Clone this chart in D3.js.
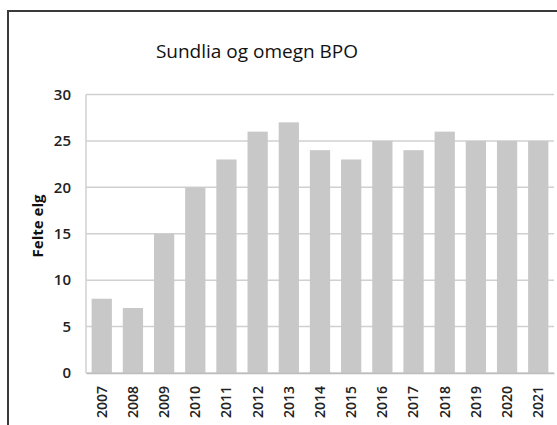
<!DOCTYPE html>
<html><head><meta charset="utf-8">
<script src="https://cdn.jsdelivr.net/npm/d3@7"></script>
<style>body{margin:0;background:#fff;}svg{display:block;}</style>
</head><body>
<svg id="c" width="557" height="425"></svg>
<script>
const years = ["2007","2008","2009","2010","2011","2012","2013","2014","2015","2016","2017","2018","2019","2020","2021"];
const felteElg = [8,7,15,20,23,26,27,24,23,25,24,26,25,25,25];
const yTicks = [0,5,10,15,20,25,30];
const title = "Sundlia og omegn BPO";
const yLabel = "Felte elg";

const svg = d3.select("#c");
const mL = 86, mR = 554, mT = 94.5, mB = 373;
svg.append("rect").attr("x",8).attr("y",11).attr("width",600).attr("height",500)
  .attr("fill","#fff").attr("stroke","#3a3a3a").attr("stroke-width",2);

const x = d3.scaleBand().domain(years).range([mL,mR]).paddingInner(0.35).paddingOuter(0.18);
const y = d3.scaleLinear().domain([0,30]).range([mB,mT]);

const grid = svg.append("g");
grid.selectAll("line").data(yTicks).join("line")
  .attr("x1",mL).attr("x2",mR).attr("y1",d=>y(d)).attr("y2",d=>y(d))
  .attr("stroke","#d0d0d0").attr("stroke-width",1.5);
grid.append("line").attr("x1",mL).attr("x2",mL).attr("y1",mT).attr("y2",mB)
  .attr("stroke","#d0d0d0").attr("stroke-width",1.5);

svg.append("g").selectAll("rect").data(years).join("rect")
  .attr("x",d=>x(d)).attr("width",x.bandwidth())
  .attr("y",(d,i)=>y(felteElg[i])).attr("height",(d,i)=>y(0)-y(felteElg[i]))
  .attr("fill","#c8c8c8");

const yAxis = svg.append("g").attr("transform",`translate(${mL},0)`)
  .call(d3.axisLeft(y).tickValues(yTicks).tickSize(0).tickPadding(15));
yAxis.select(".domain").remove();
yAxis.selectAll("text").attr("font-family","Open Sans, sans-serif").attr("font-size",15).attr("font-weight","600").attr("fill","#222");

const xAxis = svg.append("g").attr("transform",`translate(0,${mB})`)
  .call(d3.axisBottom(x).tickSize(0));
xAxis.select(".domain").attr("stroke","#bdbdbd").attr("stroke-width",1.5);
xAxis.selectAll("text")
  .attr("font-family","Open Sans, sans-serif").attr("font-size",14).attr("font-weight","600").attr("fill","#222")
  .attr("transform","rotate(-90)").attr("text-anchor","end").attr("dy","0.35em").attr("x",-13).attr("y",0);

svg.append("text").attr("x",257).attr("y",58).attr("text-anchor","middle")
  .attr("font-family","Open Sans, sans-serif").attr("font-size",19).attr("fill","#111").text(title);

svg.append("text").attr("transform",`translate(43,226) rotate(-90)`).attr("text-anchor","middle")
  .attr("font-family","Open Sans, sans-serif").attr("font-weight","bold").attr("font-size",15).attr("fill","#111").text(yLabel);
</script>
</body></html>
